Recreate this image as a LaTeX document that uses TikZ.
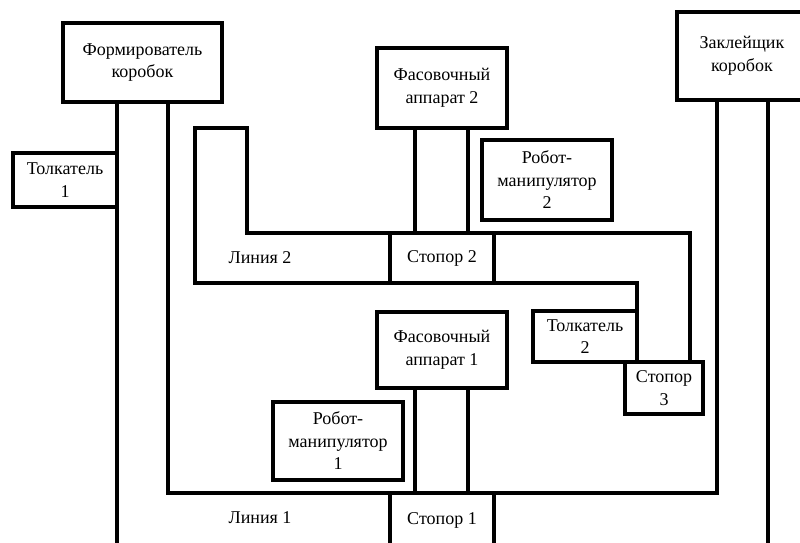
\documentclass[tikz,border=0pt]{standalone}
\usepackage{fontspec}
\setmainfont{Liberation Serif}
\usetikzlibrary{positioning}

\tikzset{
	machine/.style	= {draw, line width=3.5pt, inner sep=0pt, outer sep=0pt, align=center,
					   minimum width=130pt, font=\fontsize{18}{22.5}\selectfont},
	belt/.style		= {line width=3.5pt},
	tag/.style		= {font=\fontsize{18}{22.5}\selectfont},
}

\begin{document}
\begin{tikzpicture}[x=1pt, y=-1pt]
	\useasboundingbox (0,0) rectangle (800,543);
	\clip (0,0) rectangle (800,543);

	\node[machine, minimum width=159pt, minimum height=79pt]	(former)	at (142.5,62.5)	{Формирователь\\коробок};
	\node[machine, minimum width=104pt, minimum height=54pt]	(tolk1)		at (65,180)		{Толкатель\\1};
	\node[machine, minimum height=80pt]							(fas2)		at (442,88)		{Фасовочный\\аппарат 2};
	\node[machine, minimum height=80pt]							(robot2)	at (547,180)	{Робот-\\манипулятор\\2};
	\node[machine, minimum width=104pt, minimum height=50pt]	(stop2)		at (442,258)	{Стопор 2};
	\node[machine, minimum height=76pt]							(fas1)		at (442,350)	{Фасовочный\\аппарат 1};
	\node[machine, minimum height=78pt]							(robot1)	at (338,441)	{Робот-\\манипулятор\\1};
	\node[machine, minimum width=104pt, minimum height=54pt]	(stop1)		at (442,520)	{Стопор 1};
	\node[machine, minimum width=104pt, minimum height=51pt]	(tolk2)		at (585,336.5)	{Толкатель\\2};
	\node[machine, minimum width=78pt, minimum height=52pt]		(stop3)		at (664,388)	{Стопор\\3};
	\node[machine, minimum height=88pt]							(zakl)		at (742,56)		{Заклейщик\\коробок};
	\node[tag]													(line2)		at (260,258)	{Линия 2};
	\node[tag]													(line1)		at (260,518)	{Линия 1};

	\coordinate (a1) at (117,550);
	\coordinate (a2) at (168,493);
	\coordinate (a3) at (717,493);
	\coordinate (a4) at (768,550);
	\coordinate (b1) at (195,128);
	\coordinate (b2) at (247,128);
	\coordinate (b3) at (195,283);
	\coordinate (b4) at (637,283);
	\coordinate (b5) at (690,233);

	\draw[belt] (former.south -| a1) -- (a1);
	\draw[belt] (former.south -| a2) -- (a2) -- (stop1.north west);
	\draw[belt] (stop1.north east) -- (a3) -- (zakl.south -| a3);
	\draw[belt] (zakl.south -| a4) -- (a4);
	\draw[belt] ([xshift=-27pt]fas1.south) -- ([xshift=-27pt]fas1.south |- stop1.north);
	\draw[belt] ([xshift=26pt]fas1.south) -- ([xshift=26pt]fas1.south |- stop1.north);

	\draw[belt] (stop2.north west) -| (b2) -- (b1) -- (b3) -- (b4) -- (tolk2.north east);
	\draw[belt] (stop2.north east) -| (stop3.north -| b5);
	\draw[belt] ([xshift=-27pt]fas2.south) -- ([xshift=-27pt]fas2.south |- stop2.north);
	\draw[belt] ([xshift=26pt]fas2.south) -- ([xshift=26pt]fas2.south |- stop2.north);
\end{tikzpicture}
\end{document}
